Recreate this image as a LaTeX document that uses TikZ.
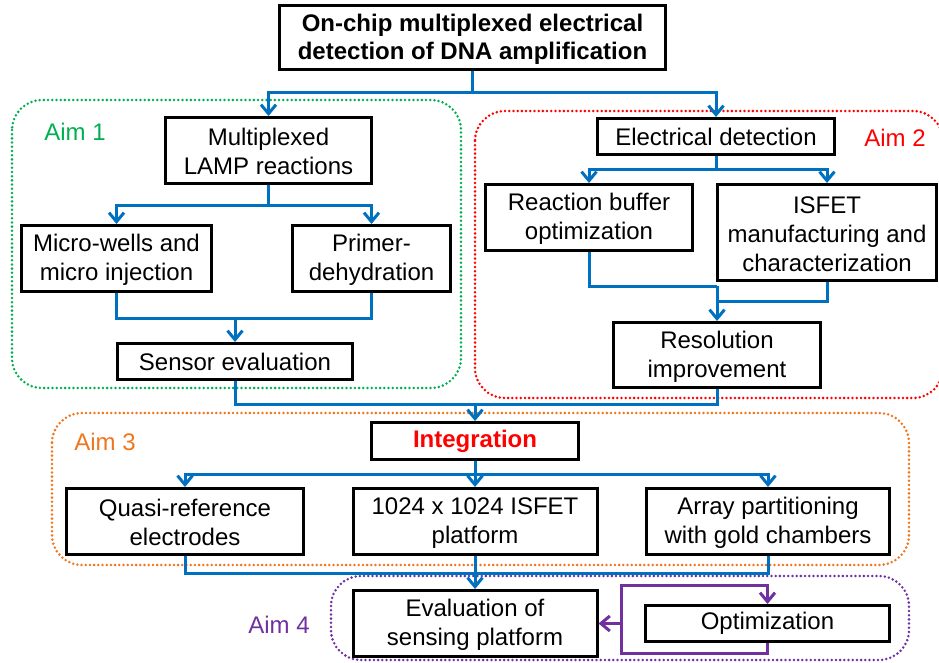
\documentclass[tikz,border=0pt]{standalone}
\usepackage{fontspec}
\setmainfont{Liberation Sans}
\usetikzlibrary{arrows.meta}
\definecolor{cblue}{RGB}{0,112,192}
\definecolor{cgreen}{RGB}{0,176,80}
\definecolor{cred}{RGB}{255,0,0}
\definecolor{corange}{RGB}{240,118,30}
\definecolor{cpurple}{RGB}{112,48,160}
\tikzset{
  box/.style={draw=black, line width=3pt, fill=white, align=center, inner sep=0pt, font=\fontsize{24}{29}\selectfont},
  line/.style={draw=cblue, line width=3pt},
  arr/.style={line, -{Straight Barb[length=9pt,width=15pt,line width=3pt]}},
  parr/.style={draw=cpurple, line width=3pt, -{Straight Barb[length=9pt,width=15pt,line width=3pt]}},
  aim/.style={line width=2.8pt, line cap=round, dash pattern=on 0pt off 4.2pt, rounded corners=30pt},
  aimlabel/.style={font=\fontsize{24}{29}\selectfont, inner sep=0pt}
}
\begin{document}
\begin{tikzpicture}[x=1pt,y=-1pt]
\useasboundingbox (0,0) rectangle (939,663);
% aim regions
\draw[aim, draw=cgreen] (12,100) rectangle (461,388);
\draw[aim, draw=cred] (475,111) rectangle (943,398);
\draw[aim, draw=corange] (52,413) rectangle (909,565);
\draw[aim, draw=cpurple] (331,576) rectangle (909,660);
\node[aimlabel, text=cgreen] (a1) at (75,132) {Aim 1};
\node[aimlabel, text=cred] (a2) at (895,138) {Aim 2};
\node[aimlabel, text=corange] (a3) at (105,442) {Aim 3};
\node[aimlabel, text=cpurple] (a4) at (279,625) {Aim 4};
% boxes
\node[box, minimum width=386, minimum height=64, font=\fontsize{24}{28}\selectfont\bfseries] (title) at (472.5,37.5) {\rule{0pt}{20pt}On-chip multiplexed electrical\\detection of DNA amplification};
\node[box, minimum width=206, minimum height=66] (mult) at (268.5,150.5) {\rule{0pt}{20pt}Multiplexed\\LAMP reactions};
\node[box, minimum width=190, minimum height=66] (micro) at (116.5,258.5) {\rule{0pt}{20pt}Micro-wells and\\micro injection};
\node[box, minimum width=158, minimum height=66] (primer) at (371.5,258.5) {\rule{0pt}{20pt}Primer-\\dehydration};
\node[box, minimum width=235, minimum height=36] (sensor) at (235,361.5) {Sensor evaluation};
\node[box, minimum width=237, minimum height=36] (elec) at (716,136.5) {Electrical detection};
\node[box, minimum width=207, minimum height=66] (buffer) at (589,217.5) {\rule{0pt}{20pt}Reaction buffer\\optimization};
\node[box, minimum width=219, minimum height=96] (isfet) at (827,232.5) {\rule{0pt}{20pt}ISFET\\manufacturing and\\characterization};
\node[box, minimum width=207, minimum height=65] (resol) at (717,355) {\rule{0pt}{20pt}Resolution\\improvement};
\node[box, minimum width=207, minimum height=37, text=cred, font=\fontsize{24}{29}\selectfont\bfseries] (integ) at (475,441) {Integration};
\node[box, minimum width=237, minimum height=66] (quasi) at (185,521.5) {\rule{0pt}{20pt}Quasi-reference\\electrodes};
\node[box, minimum width=244, minimum height=66] (plat) at (475,521.5) {\rule{0pt}{20pt}1024 x 1024 ISFET\\platform};
\node[box, minimum width=243, minimum height=66] (array) at (768,521.5) {\rule{0pt}{20pt}Array partitioning\\with gold chambers};
\node[box, minimum width=244, minimum height=66] (eval) at (475,623.5) {\rule{0pt}{20pt}Evaluation of\\sensing platform};
\node[box, minimum width=244, minimum height=36] (optim) at (767.5,623.5) {Optimization};
% junction coordinates
\coordinate (j0) at (472.5,93);
\coordinate (j1) at (268.5,205);
\coordinate (m1) at (235,318);
\coordinate (j2) at (716,170);
\coordinate (m2) at (717,286);
\coordinate (m2b) at (717,301);
\coordinate (m3) at (475,404);
\coordinate (b3) at (475,474);
\coordinate (m4) at (475,573);
\coordinate (p1) at (621,653);
\coordinate (p2) at (621,585);
% connectors
\draw[line] (title.south) -- (j0);
\draw[arr] (j0) -| (mult.north);
\draw[arr] (j0) -| (elec.north);
\draw[line] (mult.south) -- (j1);
\draw[arr] (j1) -| (micro.north);
\draw[arr] (j1) -| (primer.north);
\draw[line] (micro.south) |- (m1);
\draw[line] (primer.south) |- (m1);
\draw[arr] (m1) -- (sensor.north);
\draw[line] (elec.south) -- (j2);
\draw[arr] (j2) -| (buffer.north);
\draw[arr] (j2) -| (isfet.north);
\draw[line] (buffer.south) |- (m2);
\draw[line] (isfet.south) |- (m2b);
\draw[arr] (m2) -- (resol.north);
\draw[line] (sensor.south) |- (resol.south |- m3) -- (resol.south);
\draw[arr] (m3) -- (integ.north);
\draw[line] (integ.south) -- (b3);
\draw[arr] (b3) -| (quasi.north);
\draw[arr] (b3) -| (array.north);
\draw[arr] (b3) -- (plat.north);
\draw[line] (quasi.south) |- (array.south |- m4) -- (array.south);
\draw[arr] (plat.south) -- (eval.north);
\draw[parr] (optim.south) |- (p1) -- (p2) -| (optim.north);
\draw[parr] (p1 |- eval.east) -- (eval.east);
\end{tikzpicture}
\end{document}
